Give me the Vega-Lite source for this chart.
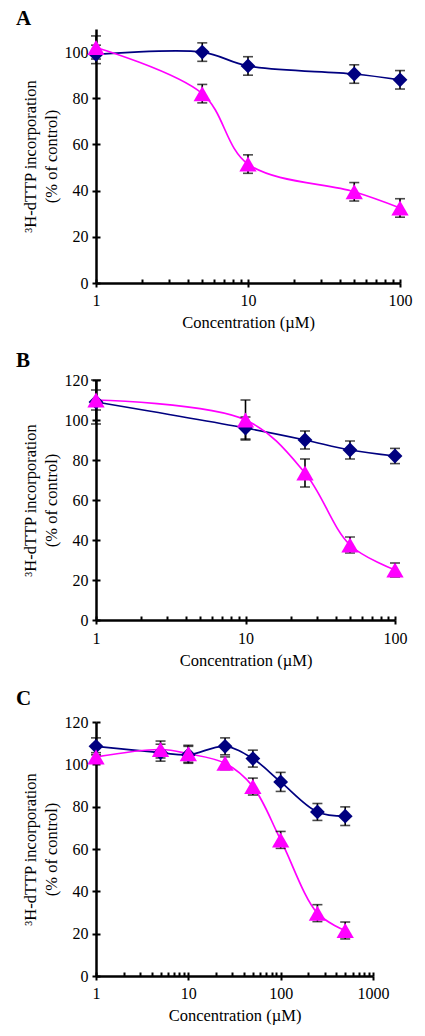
{
  "$schema": "https://vega.github.io/schema/vega-lite/v6.json",
  "background": "white",
  "padding": {"left": 16, "top": 8, "right": 5, "bottom": 5},
  "spacing": 19,
  "config": {
    "view": {"stroke": null},
    "font": "Liberation Serif",
    "axis": {
      "grid": false,
      "domainColor": "black",
      "domainWidth": 2.5,
      "tickColor": "black",
      "tickWidth": 2,
      "labelFont": "Liberation Serif",
      "labelFontSize": 16,
      "labelColor": "black",
      "labelFlush": false,
      "titleFont": "Liberation Serif",
      "titleFontSize": 16.5,
      "titleFontWeight": "normal",
      "titleColor": "black"
    },
    "title": {"font": "Liberation Serif", "fontSize": 21, "fontWeight": "bold", "color": "black", "anchor": "start", "frame": "group", "baseline": "bottom", "dx": -80}
  },
  "datasets": {
    "A": [
      {"compound": "navy", "conc": 1, "val": 99, "err": 4},
      {"compound": "navy", "conc": 5, "val": 100, "err": 4},
      {"compound": "navy", "conc": 10, "val": 94, "err": 4},
      {"compound": "navy", "conc": 50, "val": 90.5, "err": 4},
      {"compound": "navy", "conc": 100, "val": 88, "err": 4},
      {"compound": "magenta", "conc": 1, "val": 102, "err": 5},
      {"compound": "magenta", "conc": 5, "val": 82, "err": 4},
      {"compound": "magenta", "conc": 10, "val": 51.5, "err": 4},
      {"compound": "magenta", "conc": 50, "val": 39.5, "err": 4},
      {"compound": "magenta", "conc": 100, "val": 32.5, "err": 4}
    ],
    "B": [
      {"compound": "navy", "conc": 1, "val": 109, "err": 11},
      {"compound": "navy", "conc": 10, "val": 96, "err": 5.5},
      {"compound": "navy", "conc": 25, "val": 90, "err": 4.5},
      {"compound": "navy", "conc": 50, "val": 85, "err": 4.5},
      {"compound": "navy", "conc": 100, "val": 82, "err": 3.8},
      {"compound": "magenta", "conc": 1, "val": 110, "err": 5},
      {"compound": "magenta", "conc": 10, "val": 100, "err": 10},
      {"compound": "magenta", "conc": 25, "val": 73.5, "err": 7},
      {"compound": "magenta", "conc": 50, "val": 37.5, "err": 4},
      {"compound": "magenta", "conc": 100, "val": 25, "err": 3.5}
    ],
    "C": [
      {"compound": "navy", "conc": 1, "val": 108.5, "err": 4},
      {"compound": "navy", "conc": 5, "val": 105.5, "err": 4},
      {"compound": "navy", "conc": 10, "val": 104.5, "err": 4},
      {"compound": "navy", "conc": 25, "val": 108.5, "err": 4},
      {"compound": "navy", "conc": 50, "val": 102.7, "err": 4},
      {"compound": "navy", "conc": 100, "val": 91.7, "err": 4.5},
      {"compound": "navy", "conc": 250, "val": 77.5, "err": 4},
      {"compound": "navy", "conc": 500, "val": 75.5, "err": 4.4},
      {"compound": "magenta", "conc": 1, "val": 103.5, "err": 2},
      {"compound": "magenta", "conc": 5, "val": 107, "err": 4},
      {"compound": "magenta", "conc": 10, "val": 105, "err": 4},
      {"compound": "magenta", "conc": 25, "val": 100.5, "err": 3},
      {"compound": "magenta", "conc": 50, "val": 89.5, "err": 4},
      {"compound": "magenta", "conc": 100, "val": 64.3, "err": 4},
      {"compound": "magenta", "conc": 250, "val": 29.7, "err": 4},
      {"compound": "magenta", "conc": 500, "val": 21.5, "err": 4}
    ]
  },
  "vconcat": [
    {
      "title": {"text": "A", "offset": 0},
      "width": 304,
      "height": 254,
      "data": {"name": "A"},
      "resolve": {"axis": {"x": "independent", "y": "independent"}},
      "layer": [
        {
          "mark": {"type": "line", "interpolate": "catmull-rom", "strokeWidth": 1.7},
          "encoding": {
            "x": {"field": "conc", "type": "quantitative", "scale": {"type": "log", "domain": [1, 100]},
              "axis": {"values": [1, 10, 100], "format": "d", "tickSize": 4, "labelPadding": 5, "title": "Concentration (µM)", "titlePadding": 6}},
            "y": {"field": "val", "type": "quantitative", "scale": {"domain": [0, 110], "nice": false},
              "axis": {"values": [0, 20, 40, 60, 80, 100], "tickSize": 4, "labelPadding": 4, "title": ["³H-dTTP incorporation", "(% of control)"], "titleLineHeight": 21, "titlePadding": 5}},
            "color": {"field": "compound", "type": "nominal", "scale": {"domain": ["navy", "magenta"], "range": ["#000080", "#ff00ff"]}, "legend": null}
          }
        },
        {
          "mark": {"type": "errorbar", "ticks": {"size": 10, "thickness": 1.6}, "rule": {"strokeWidth": 1.6}, "color": "black"},
          "encoding": {
            "x": {"field": "conc", "type": "quantitative", "axis": null},
            "y": {"field": "val", "type": "quantitative", "axis": null},
            "yError": {"field": "err"}
          }
        },
        {
          "mark": {"type": "point", "filled": true, "opacity": 1},
          "encoding": {
            "x": {"field": "conc", "type": "quantitative",
              "axis": {"orient": "bottom", "values": [1, 2, 3, 4, 5, 6, 7, 8, 9, 10, 20, 30, 40, 50, 60, 70, 80, 90, 100], "tickSize": -4, "labels": false, "domain": false, "title": null}},
            "y": {"field": "val", "type": "quantitative",
              "axis": {"orient": "left", "values": [0, 20, 40, 60, 80, 100], "tickSize": -4, "labels": false, "domain": false, "title": null}},
            "color": {"field": "compound", "type": "nominal", "legend": null},
            "shape": {"field": "compound", "type": "nominal", "scale": {"domain": ["navy", "magenta"], "range": ["diamond", "triangle-up"]}, "legend": null},
            "size": {"field": "compound", "type": "nominal", "scale": {"domain": ["navy", "magenta"], "range": [220, 300]}, "legend": null}
          }
        }
      ]
    },
    {
      "title": {"text": "B", "offset": 1},
      "width": 299,
      "height": 240,
      "data": {"name": "B"},
      "resolve": {"axis": {"x": "independent", "y": "independent"}},
      "layer": [
        {
          "mark": {"type": "line", "interpolate": "catmull-rom", "strokeWidth": 1.7},
          "encoding": {
            "x": {"field": "conc", "type": "quantitative", "scale": {"type": "log", "domain": [1, 100]},
              "axis": {"values": [1, 10, 100], "format": "d", "tickSize": 4, "labelPadding": 6, "title": "Concentration (µM)", "titlePadding": 6}},
            "y": {"field": "val", "type": "quantitative", "scale": {"domain": [0, 120], "nice": false},
              "axis": {"values": [0, 20, 40, 60, 80, 100, 120], "tickSize": 4, "labelPadding": 4, "title": ["³H-dTTP incorporation", "(% of control)"], "titleLineHeight": 21, "titlePadding": 5}},
            "color": {"field": "compound", "type": "nominal", "scale": {"domain": ["navy", "magenta"], "range": ["#000080", "#ff00ff"]}, "legend": null}
          }
        },
        {
          "mark": {"type": "errorbar", "ticks": {"size": 10, "thickness": 1.6}, "rule": {"strokeWidth": 1.6}, "color": "black"},
          "encoding": {
            "x": {"field": "conc", "type": "quantitative", "axis": null},
            "y": {"field": "val", "type": "quantitative", "axis": null},
            "yError": {"field": "err"}
          }
        },
        {
          "mark": {"type": "point", "filled": true, "opacity": 1},
          "encoding": {
            "x": {"field": "conc", "type": "quantitative",
              "axis": {"orient": "bottom", "values": [1, 2, 3, 4, 5, 6, 7, 8, 9, 10, 20, 30, 40, 50, 60, 70, 80, 90, 100], "tickSize": -4, "labels": false, "domain": false, "title": null}},
            "y": {"field": "val", "type": "quantitative",
              "axis": {"orient": "left", "values": [0, 20, 40, 60, 80, 100, 120], "tickSize": -4, "labels": false, "domain": false, "title": null}},
            "color": {"field": "compound", "type": "nominal", "legend": null},
            "shape": {"field": "compound", "type": "nominal", "scale": {"domain": ["navy", "magenta"], "range": ["diamond", "triangle-up"]}, "legend": null},
            "size": {"field": "compound", "type": "nominal", "scale": {"domain": ["navy", "magenta"], "range": [220, 300]}, "legend": null}
          }
        }
      ]
    },
    {
      "title": {"text": "C", "offset": 5},
      "width": 277,
      "height": 254,
      "data": {"name": "C"},
      "resolve": {"axis": {"x": "independent", "y": "independent"}},
      "layer": [
        {
          "mark": {"type": "line", "interpolate": "catmull-rom", "strokeWidth": 1.7},
          "encoding": {
            "x": {"field": "conc", "type": "quantitative", "scale": {"type": "log", "domain": [1, 1000]},
              "axis": {"values": [1, 10, 100, 1000], "format": "d", "tickSize": 4, "labelPadding": 5, "title": "Concentration (µM)", "titlePadding": 6}},
            "y": {"field": "val", "type": "quantitative", "scale": {"domain": [0, 120], "nice": false},
              "axis": {"values": [0, 20, 40, 60, 80, 100, 120], "tickSize": 4, "labelPadding": 4, "title": ["³H-dTTP incorporation", "(% of control)"], "titleLineHeight": 21, "titlePadding": 5}},
            "color": {"field": "compound", "type": "nominal", "scale": {"domain": ["navy", "magenta"], "range": ["#000080", "#ff00ff"]}, "legend": null}
          }
        },
        {
          "mark": {"type": "errorbar", "ticks": {"size": 10, "thickness": 1.6}, "rule": {"strokeWidth": 1.6}, "color": "black"},
          "encoding": {
            "x": {"field": "conc", "type": "quantitative", "axis": null},
            "y": {"field": "val", "type": "quantitative", "axis": null},
            "yError": {"field": "err"}
          }
        },
        {
          "mark": {"type": "point", "filled": true, "opacity": 1},
          "encoding": {
            "x": {"field": "conc", "type": "quantitative",
              "axis": {"orient": "bottom", "values": [1, 2, 3, 4, 5, 6, 7, 8, 9, 10, 20, 30, 40, 50, 60, 70, 80, 90, 100, 200, 300, 400, 500, 600, 700, 800, 900, 1000], "tickSize": -4, "labels": false, "domain": false, "title": null}},
            "y": {"field": "val", "type": "quantitative",
              "axis": {"orient": "left", "values": [0, 20, 40, 60, 80, 100, 120], "tickSize": -4, "labels": false, "domain": false, "title": null}},
            "color": {"field": "compound", "type": "nominal", "legend": null},
            "shape": {"field": "compound", "type": "nominal", "scale": {"domain": ["navy", "magenta"], "range": ["diamond", "triangle-up"]}, "legend": null},
            "size": {"field": "compound", "type": "nominal", "scale": {"domain": ["navy", "magenta"], "range": [220, 300]}, "legend": null}
          }
        }
      ]
    }
  ]
}
